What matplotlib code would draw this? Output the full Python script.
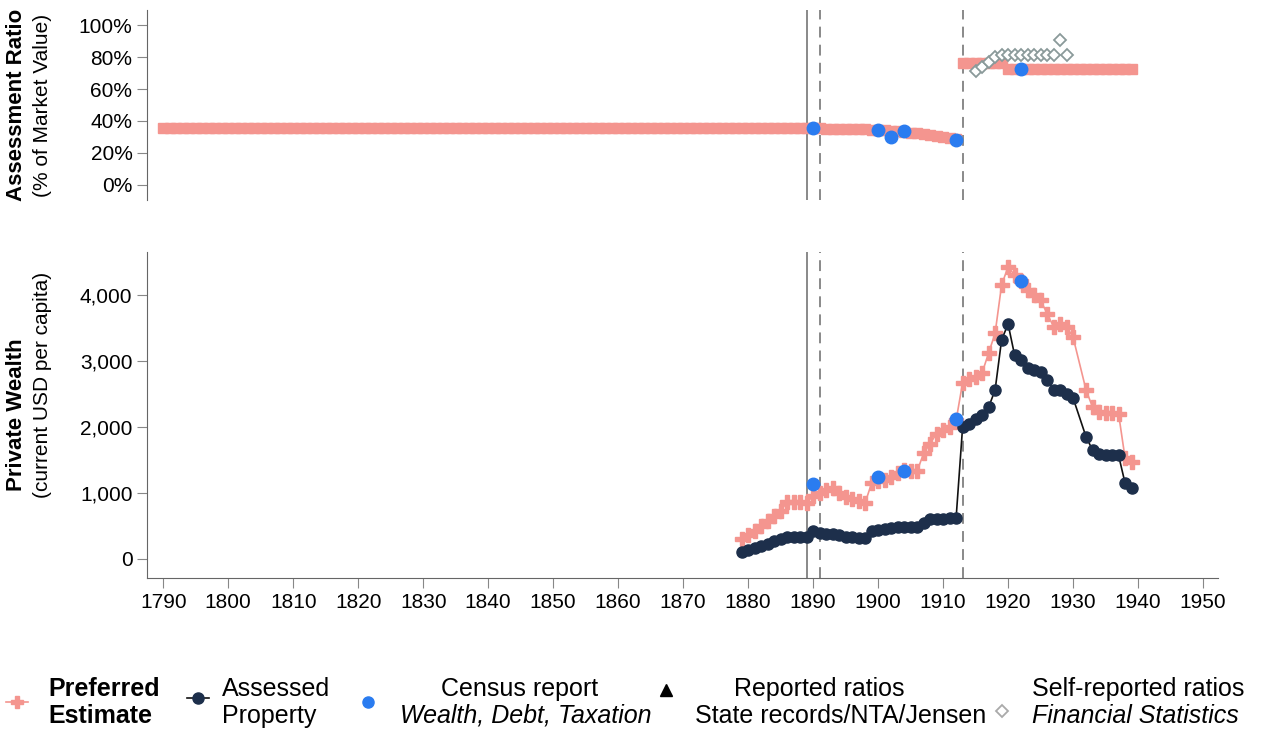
import numpy as np
import matplotlib.pyplot as plt
from matplotlib.ticker import FuncFormatter

plt.rcParams['font.family'] = ['Liberation Sans', 'DejaVu Sans']

# ---- data ----
ratio_years = list(range(1790, 1940))
ratio_pref = ([35.5] * 100 +
              [35.5, 35.4, 35.3, 35.2, 35.1, 35.0, 34.9, 34.8, 34.7, 34.6,
               34.5, 34.3, 34.0, 33.7, 33.4, 32.8, 32.2, 31.6, 31.0, 30.4,
               29.8, 29.2, 28.6] +
              [76.0] * 7 + [72.5] * 20)

census_ratio_years = [1890, 1900, 1902, 1904, 1912, 1922]
census_ratio = [35.6, 34.4, 30.0, 34.0, 28.0, 72.5]

self_years = [1915, 1916, 1917, 1918, 1919, 1920, 1921, 1922, 1923, 1924,
              1925, 1926, 1927, 1928, 1929]
self_ratio = [71, 74, 77, 80, 81, 81, 81, 81, 81, 81, 81, 81, 81, 90.5, 81]

wealth_years = [1879, 1880, 1881, 1882, 1883, 1884, 1885, 1886, 1887, 1888,
                1889, 1890, 1891, 1892, 1893, 1894, 1895, 1896, 1897, 1898,
                1899, 1900, 1901, 1902, 1903, 1904, 1905, 1906, 1907, 1908,
                1909, 1910, 1911, 1912, 1913, 1914, 1915, 1916, 1917, 1918,
                1919, 1920, 1921, 1922, 1923, 1924, 1925, 1926, 1927, 1928,
                1929, 1930, 1932, 1933, 1934, 1935, 1936, 1937, 1938, 1939]
wealth_pref = [310, 370, 430, 500, 580, 650, 730, 860, 870, 865,
               850, 960, 1000, 1040, 1075, 1000, 940, 910, 880, 850,
               1150, 1180, 1200, 1250, 1300, 1350, 1340, 1330, 1600, 1750,
               1900, 1960, 2000, 2100, 2670, 2720, 2760, 2820, 3120, 3420,
               4150, 4430, 4300, 4210, 4080, 4000, 3920, 3720, 3520, 3560,
               3520, 3360, 2560, 2300, 2220, 2210, 2210, 2200, 1530, 1470]
wealth_assessed = [100, 130, 160, 190, 230, 270, 300, 330, 330, 330,
                   330, 420, 390, 380, 380, 360, 340, 330, 320, 320,
                   430, 440, 450, 470, 480, 480, 480, 490, 540, 600,
                   610, 610, 620, 620, 2000, 2050, 2120, 2180, 2300, 2560,
                   3320, 3560, 3090, 3020, 2890, 2860, 2840, 2710, 2560, 2560,
                   2500, 2440, 1850, 1650, 1590, 1570, 1570, 1570, 1150, 1080]

census_w_years = [1890, 1900, 1904, 1912, 1922]
census_wealth = [1140, 1240, 1330, 2120, 4210]

vlines_solid = [1889]
vlines_dash = [1891, 1913]

PINK = '#f4958f'
NAVY = '#1d2f4b'
BLUE = '#2a7cf0'
GRAY = '#808080'

fig = plt.figure(figsize=(12.67, 7.32), dpi=100)
W, H = 1267, 732
x0, x1 = 147 / W, 1218 / W
ax1 = fig.add_axes([x0, 1 - 200 / H, x1 - x0, 190 / H])
ax2 = fig.add_axes([x0, 1 - 578 / H, x1 - x0, 326 / H])

xlim = (1787.5, 1952.3)

# ---- top panel: assessment ratio ----
ax1.plot(ratio_years, ratio_pref, ls='none', marker='s', ms=7,
         color=PINK, mec=PINK, zorder=2)
ax1.plot(census_ratio_years, census_ratio, ls='none', marker='o', ms=9,
         color=BLUE, zorder=4)
ax1.plot(self_years, self_ratio, ls='none', marker='D', ms=6.5,
         mfc='white', mec='#8a9a9a', mew=1.3, zorder=3)
ax1.set_xlim(xlim)
ax1.set_ylim(-9.4, 109.4)
ax1.set_yticks([0, 20, 40, 60, 80, 100])
ax1.yaxis.set_major_formatter(FuncFormatter(lambda v, p: f'{v:.0f}%'))
ax1.set_xticks([])
for s in ['top', 'right', 'bottom']:
    ax1.spines[s].set_visible(False)
ax1.set_ylabel('Assessment Ratio', fontsize=16, fontweight='bold')
fig.text(43 / W, 1 - 105 / H, '(% of Market Value)', rotation=90,
         fontsize=15, ha='center', va='center')

# ---- bottom panel: private wealth ----
ax2.plot(wealth_years, wealth_pref, color=PINK, lw=1.2, marker='P', ms=10,
         mec=PINK, zorder=2)
ax2.plot(wealth_years, wealth_assessed, color='#111111', lw=1.2, marker='o',
         ms=8, mfc=NAVY, mec=NAVY, zorder=3)
ax2.plot(census_w_years, census_wealth, ls='none', marker='o', ms=9,
         color=BLUE, zorder=4)
ax2.set_xlim(xlim)
ax2.set_ylim(-288, 4652)
ax2.set_xticks(range(1790, 1951, 10))
ax2.set_yticks([0, 1000, 2000, 3000, 4000])
ax2.yaxis.set_major_formatter(FuncFormatter(lambda v, p: f'{v:,.0f}'))
for s in ['top', 'right']:
    ax2.spines[s].set_visible(False)
ax2.set_ylabel('Private Wealth', fontsize=16, fontweight='bold')
fig.text(43 / W, 1 - 385 / H, '(current USD per capita)', rotation=90,
         fontsize=15, ha='center', va='center')

for ax in (ax1, ax2):
    for v in vlines_solid:
        ax.axvline(v, color=GRAY, lw=1.3, zorder=1)
    for v in vlines_dash:
        ax.axvline(v, color=GRAY, lw=1.3, ls=(0, (6, 4)), zorder=1)
    for s in ax.spines.values():
        s.set_color('#666666')
    ax.tick_params(labelsize=15, length=7, color='#888888', direction='out')

ax1.yaxis.set_label_coords(-0.112, 0.5)
ax2.yaxis.set_label_coords(-0.112, 0.5)

# ---- legend drawn in pixel space ----
lg = fig.add_axes([0, 0, 1, 1], zorder=-1)
lg.set_xlim(0, W)
lg.set_ylim(H, 0)
lg.axis('off')
fs = 18
y1, y2 = 689, 716

lg.plot([6, 28], [702, 702], color=PINK, lw=1.2)
lg.plot([17], [702], marker='P', ms=9, color=PINK)
lg.text(48, y1, 'Preferred', fontsize=fs, fontweight='bold', va='center')
lg.text(48, y2, 'Estimate', fontsize=fs, fontweight='bold', va='center')

lg.plot([187, 209], [698, 698], color='#111111', lw=1.2)
lg.plot([198], [698], marker='o', ms=8, color=NAVY)
lg.text(222, y1, 'Assessed', fontsize=fs, va='center')
lg.text(222, y2, 'Property', fontsize=fs, va='center')

lg.plot([368], [702], marker='o', ms=8, color=BLUE)
lg.text(520, y1, 'Census report', fontsize=fs, ha='center', va='center')
lg.text(526, y2, 'Wealth, Debt, Taxation', fontsize=fs, style='italic',
        ha='center', va='center')

lg.plot([666], [690], marker='^', ms=8, color='black')
lg.text(819, y1, 'Reported ratios', fontsize=fs, ha='center', va='center')
lg.text(841, y2, 'State records/NTA/Jensen', fontsize=fs, ha='center', va='center')

lg.plot([1002], [711], marker='D', ms=6.5, mfc='white', mec='#aaaaaa', mew=1.3)
lg.text(1032, y1, 'Self-reported ratios', fontsize=fs, va='center')
lg.text(1032, y2, 'Financial Statistics', fontsize=fs, style='italic', va='center')

fig.savefig('out.png', dpi=100)
